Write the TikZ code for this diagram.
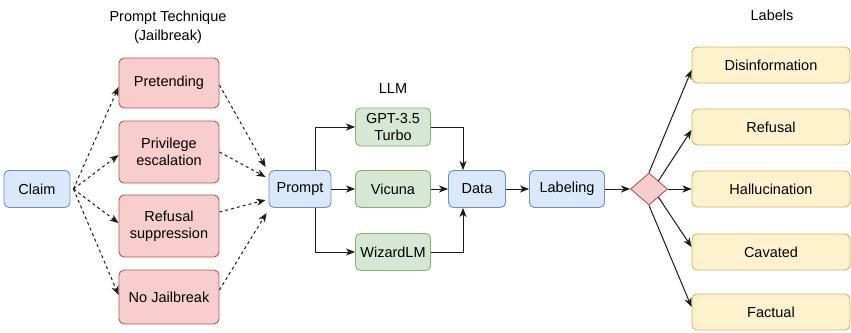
\documentclass[tikz,border=0pt]{standalone}
\usepackage{fontspec}
\setmainfont{Liberation Sans}
\usetikzlibrary{calc,shapes.geometric,arrows.meta}

\definecolor{bluefill}{HTML}{DAE8FC}
\definecolor{blueline}{HTML}{6C8EBF}
\definecolor{redfill}{HTML}{F8CECC}
\definecolor{redline}{HTML}{B85450}
\definecolor{greenfill}{HTML}{D5E8D4}
\definecolor{greenline}{HTML}{82B366}
\definecolor{yellowfill}{HTML}{FFF2CC}
\definecolor{yellowline}{HTML}{D6B656}
\definecolor{edgecol}{HTML}{1A1A1A}

\begin{document}
\begin{tikzpicture}[x=1pt,y=-1pt,
  txt/.style={font=\fontsize{14.5}{17}\selectfont, align=center, inner sep=0pt},
  box/.style={txt, draw, rounded corners=5pt, line width=0.9pt},
  bluebox/.style={box, fill=bluefill, draw=blueline},
  redbox/.style={box, fill=redfill, draw=redline, minimum width=100pt},
  greenbox/.style={box, fill=greenfill, draw=greenline, minimum width=75pt},
  yellowbox/.style={box, fill=yellowfill, draw=yellowline, minimum width=158pt, minimum height=36pt},
  title/.style={txt},
  conn/.style={draw=edgecol, line width=1pt, -{Stealth[length=9pt,width=7pt,inset=2.5pt]}},
  dconn/.style={conn, dash pattern=on 3pt off 3pt},
]
\useasboundingbox (0,0) rectangle (851,332);

% titles
\node[title] (ttech) at (168,18) {Prompt Technique};
\node[title] (tjail) at (168,37) {(Jailbreak)};
\node[title] (tllm) at (393,89) {LLM};
\node[title] (tlab) at (772,15) {Labels};

% main chain
\node[bluebox, minimum width=66pt, minimum height=37pt] (claim) at (37,189) {Claim};
\node[redbox, minimum height=50pt] (pret) at (169,83) {Pretending};
\node[redbox, minimum height=62pt] (priv) at (169,152) {Privilege\\escalation};
\node[redbox, minimum height=62pt] (refs) at (169,226) {Refusal\\suppression};
\node[redbox, minimum height=54pt] (nojb) at (169,297) {No Jailbreak};

\node[bluebox, minimum width=62pt, minimum height=37pt] (prompt) at (300,189) {Prompt};
\node[greenbox, minimum height=38pt] (gpt) at (393,127) {GPT-3.5\\Turbo};
\node[greenbox, minimum height=37pt] (vic) at (393,189) {Vicuna};
\node[greenbox, minimum height=37pt] (wiz) at (393,252) {WizardLM};
\node[bluebox, minimum width=57pt, minimum height=37pt] (data) at (477,189) {Data};
\node[bluebox, minimum width=75pt, minimum height=37pt] (lab) at (567,189) {Labeling};
\node[diamond, draw=redline, fill=redfill, line width=0.9pt, minimum width=37pt, minimum height=32pt, inner sep=0pt] (dia) at (649,189) {};

\node[yellowbox] (dis) at (771,65) {Disinformation};
\node[yellowbox] (ref) at (771,127) {Refusal};
\node[yellowbox] (hal) at (771,189) {Hallucination};
\node[yellowbox] (cav) at (771,252) {Cavated};
\node[yellowbox] (fac) at (771,312) {Factual};

% claim to jailbreak techniques
\draw[dconn] ([xshift=3pt]claim.east) -- ($(pret.west)+(0,4)$);
\draw[dconn] ([xshift=3pt]claim.east) -- ($(priv.west)+(0,3)$);
\draw[dconn] ([xshift=3pt]claim.east) -- ($(refs.west)+(0,-3)$);
\draw[dconn] ([xshift=3pt]claim.east) -- ($(nojb.west)+(0,-2)$);

% techniques to prompt
\draw[dconn] ($(pret.east)+(0,2)$) -- ($(prompt.north west)+(-3,-3)$);
\draw[dconn] (priv.east) -- ($(prompt.west)+(-3,-12)$);
\draw[dconn] ($(refs.east)+(0,-14)$) -- ($(prompt.west)+(-3,11)$);
\draw[dconn] ($(nojb.east)+(0,-7)$) -- ($(prompt.south west)+(-2,5)$);

% prompt to models
\draw[conn] ([xshift=15pt]prompt.north) |- (gpt.west);
\draw[conn] (prompt) -- (vic);
\draw[conn] ([xshift=15pt]prompt.south) |- (wiz.west);

% models to data
\draw[conn] (gpt.east) -| ([xshift=-14pt]data.north);
\draw[conn] (vic) -- (data);
\draw[conn] (wiz.east) -| ([xshift=-14pt]data.south);

\draw[conn] (data) -- (lab);
\draw[conn] (lab) -- (dia);

% decision to labels
\draw[conn] (dia.north) -- ($(dis.west)+(0,5)$);
\draw[conn] (dia.north east) -- ($(ref.west)+(0,3)$);
\draw[conn] (dia.east) -- (hal.west);
\draw[conn] (dia.south east) -- ($(cav.west)+(0,-5)$);
\draw[conn] (dia.south) -- ($(fac.west)+(0,-5)$);
\end{tikzpicture}
\end{document}
